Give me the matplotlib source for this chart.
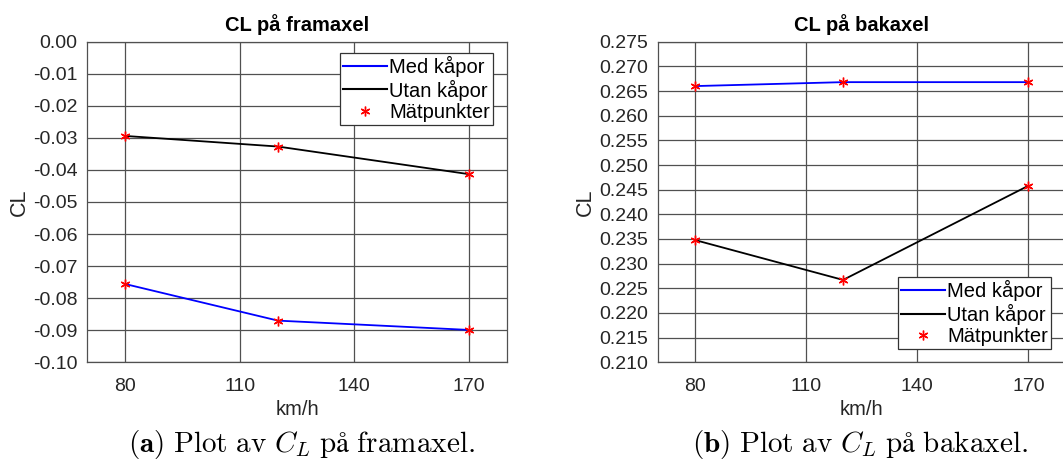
import matplotlib
matplotlib.use("Agg")
import matplotlib.pyplot as plt
from matplotlib.lines import Line2D

plt.rcParams['font.family'] = ['Liberation Sans', 'DejaVu Sans']
plt.rcParams['mathtext.fontset'] = 'cm'

# Measured lift coefficients vs. speed
speed = [80, 120, 170]
front_med = [-0.0756, -0.0870, -0.0899]
front_utan = [-0.0294, -0.0327, -0.0413]
rear_med = [0.2660, 0.2668, 0.2668]
rear_utan = [0.2348, 0.2267, 0.2458]

x_ticks = [80, 110, 140, 170]
front_yticks = [-0.10, -0.09, -0.08, -0.07, -0.06, -0.05, -0.04, -0.03, -0.02, -0.01, 0.00]
rear_yticks = [0.210, 0.215, 0.220, 0.225, 0.230, 0.235, 0.240, 0.245, 0.250,
               0.255, 0.260, 0.265, 0.270, 0.275]

titles = ["CL på framaxel", "CL på bakaxel"]
captions = [r"$\mathbf{(a)}\ \mathrm{Plot\ av}\ C_L\ \mathrm{på\ framaxel.}$",
            r"$\mathbf{(b)}\ \mathrm{Plot\ av}\ C_L\ \mathrm{på\ bakaxel.}$"]
labels = ["Med kåpor", "Utan kåpor", "Mätpunkter"]

W, H = 1063, 468
fig = plt.figure(figsize=(W / 100, H / 100), dpi=100)

def box(x0, x1, ytop, ybot):
    return [x0 / W, (H - ybot) / H, (x1 - x0) / W, (ybot - ytop) / H]

ax1 = fig.add_axes(box(87.3, 506.7, 41.7, 362.3))
ax2 = fig.add_axes(box(657.7, 1065.5, 41.7, 362.3))

grid_col = '#505050'
text_col = '#262626'
asterisk = (6, 2, 0)

def draw(ax, med, utan, yticks, fmt, title, leg_loc, leg_anchor, ylab_x):
    ax.plot(speed, med, color='blue', lw=1.3, zorder=3)
    ax.plot(speed, utan, color='black', lw=1.3, zorder=3)
    ax.plot(speed, med, ls='none', marker=asterisk, color='red', ms=7, mew=1.0, zorder=4)
    ax.plot(speed, utan, ls='none', marker=asterisk, color='red', ms=7, mew=1.0, zorder=4)
    ax.set_xlim(70, 180)
    ax.set_ylim(yticks[0], yticks[-1])
    ax.set_xticks(x_ticks)
    ax.set_xticklabels([str(v) for v in x_ticks])
    ax.set_yticks(yticks)
    ax.set_yticklabels([fmt.format(v) for v in yticks])
    ax.grid(True, color=grid_col, lw=0.9)
    ax.set_axisbelow(True)
    ax.tick_params(length=0, labelsize=14, colors=text_col)
    ax.tick_params(axis='x', pad=11)
    ax.tick_params(axis='y', pad=7)
    for s in ax.spines.values():
        s.set_color(grid_col)
        s.set_linewidth(0.9)
    ax.set_title(title, fontsize=14.5, fontweight='bold', pad=7.5)
    ax.set_xlabel("km/h", fontsize=14.5, color=text_col)
    ax.xaxis.set_label_coords(0.5, -0.118)
    ax.set_ylabel("CL", fontsize=15.5, color=text_col)
    ax.yaxis.set_label_coords(ylab_x, 0.5)
    handles = [Line2D([], [], color='blue', lw=1.5),
               Line2D([], [], color='black', lw=1.5),
               Line2D([], [], ls='none', marker=asterisk, color='red', ms=7, mew=1.0)]
    leg = ax.legend(handles, labels, loc=leg_loc, bbox_to_anchor=leg_anchor,
                    fontsize=14.5, frameon=True, fancybox=False, framealpha=1,
                    edgecolor='#333333', borderpad=0.15, handlelength=2.2,
                    handletextpad=0.1, labelspacing=0.12, borderaxespad=0)
    leg.get_frame().set_linewidth(0.9)

draw(ax1, front_med, front_utan, front_yticks, "{:.2f}", titles[0],
     'upper right', (0.9673, 0.9648), -0.137)
draw(ax2, rear_med, rear_utan, rear_yticks, "{:.3f}", titles[1],
     'lower right', (0.9645, 0.0415), -0.152)

fig.text(301 / W, 1 - 452 / H, captions[0], ha='center', va='baseline', fontsize=21)
fig.text(860 / W, 1 - 452 / H, captions[1], ha='center', va='baseline', fontsize=21)

fig.savefig("out.png", dpi=100)
